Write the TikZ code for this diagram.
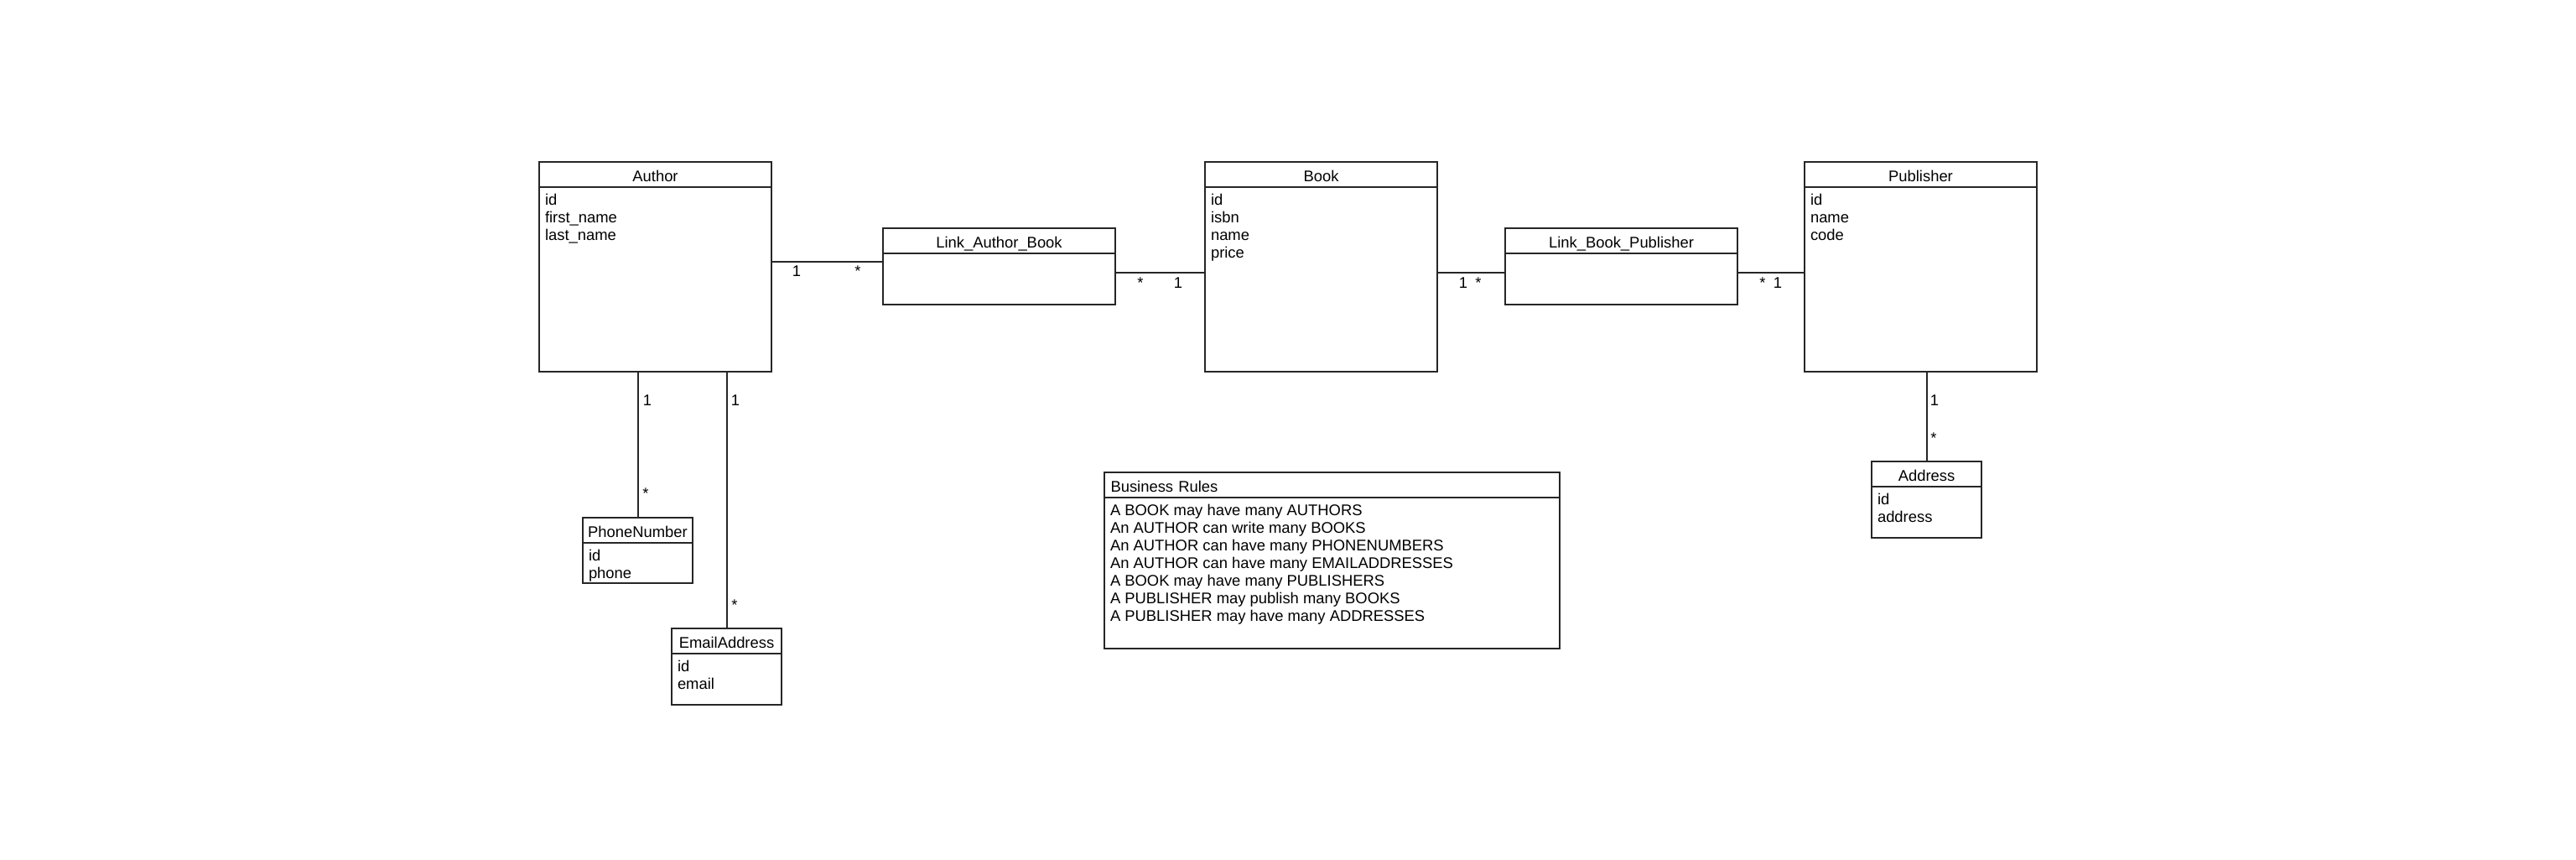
\documentclass[tikz,border=0pt]{standalone}
\usepackage{fontspec}
\setmainfont{Liberation Sans}
\usepackage{xcolor}
\usetikzlibrary{positioning}
\definecolor{umlLine}{HTML}{262626}

\begin{document}
\begin{tikzpicture}[
  x=1pt, y=-1pt,
  every node/.style={font=\fontsize{9.2}{10.5}\selectfont, inner sep=0pt, outer sep=0pt},
  head/.style={draw=umlLine, line width=1pt, anchor=north west, minimum width=138.5pt, minimum height=15pt, text height=8pt, text depth=0pt},
  body/.style={draw=umlLine, line width=1pt, minimum width=138.5pt},
  smallbox/.style={minimum width=65.5pt},
  attr/.style={anchor=north west, align=left, xshift=3.5pt, yshift=-4pt},
  mult/.style={anchor=base},
  assoc/.style={umlLine, line width=1pt},
]
  \useasboundingbox (0,0) rectangle (1536,512);

  % classes
  \node[head] (author) at (321.5,96.5) {Author};
  \node[body, below=0pt of author, minimum height=110pt] (author-body) {};
  \node[attr] (author-attr) at (author-body.north west) {id\\first\_name\\last\_name};

  \node[head] (lab) at (526.5,136) {Link\_Author\_Book};
  \node[body, below=0pt of lab, minimum height=30.5pt] (lab-body) {};

  \node[head] (book) at (718.5,96.5) {Book};
  \node[body, below=0pt of book, minimum height=110pt] (book-body) {};
  \node[attr] (book-attr) at (book-body.north west) {id\\isbn\\name\\price};

  \node[head] (lbp) at (897.5,136) {Link\_Book\_Publisher};
  \node[body, below=0pt of lbp, minimum height=30.5pt] (lbp-body) {};

  \node[head] (pub) at (1076,96.5) {Publisher};
  \node[body, below=0pt of pub, minimum height=110pt] (pub-body) {};
  \node[attr] (pub-attr) at (pub-body.north west) {id\\name\\code};

  \node[head, smallbox] (phone) at (347.5,308.5) {PhoneNumber};
  \node[body, smallbox, below=0pt of phone, minimum height=24pt] (phone-body) {};
  \node[attr] (phone-attr) at (phone-body.north west) {id\\phone};

  \node[head, smallbox] (email) at (400.5,374.5) {EmailAddress};
  \node[body, smallbox, below=0pt of email, minimum height=30.5pt] (email-body) {};
  \node[attr] (email-attr) at (email-body.north west) {id\\email};

  \node[head, smallbox] (address) at (1116,275) {Address};
  \node[body, smallbox, below=0pt of address, minimum height=30.5pt] (address-body) {};
  \node[attr] (address-attr) at (address-body.north west) {id\\address};

  % business rules note
  \node[head, minimum width=271.5pt, text width=264pt, align=left] (rules) at (658.5,281.5) {Business Rules};
  \node[body, minimum width=271.5pt, below=0pt of rules, minimum height=90pt] (rules-body) {};
  \node[attr] (rules-attr) at (rules-body.north west) {A BOOK may have many AUTHORS\\An AUTHOR can write many BOOKS\\An AUTHOR can have many PHONENUMBERS\\An AUTHOR can have many EMAILADDRESSES\\A BOOK may have many PUBLISHERS\\A PUBLISHER may publish many BOOKS\\A PUBLISHER may have many ADDRESSES};

  % associations
  \draw[assoc] (author-body.east |- 0,155.8) -- (lab-body.west |- 0,155.8);
  \draw[assoc] (lab-body.east |- 0,162.5) -- (book-body.west |- 0,162.5);
  \draw[assoc] (book-body.east |- 0,162.5) -- (lbp-body.west |- 0,162.5);
  \draw[assoc] (lbp-body.east |- 0,162.5) -- (pub-body.west |- 0,162.5);
  \draw[assoc] (author-body.south -| phone.north) -- (phone.north);
  \draw[assoc] (author-body.south -| email.north) -- (email.north);
  \draw[assoc] (pub-body.south -| address.north) -- (address.north);

  % multiplicities
  \node[mult] (m1) at (475,164.7) {1};
  \node[mult] (m2) at (511.5,164.7) {*};
  \node[mult] (m3) at (680,171.5) {*};
  \node[mult] (m4) at (702.5,171.5) {1};
  \node[mult] (m5) at (872.5,171.5) {1};
  \node[mult] (m6) at (881.5,171.5) {*};
  \node[mult] (m7) at (1051,171.5) {*};
  \node[mult] (m8) at (1060,171.5) {1};
  \node[mult] (m9) at (386,241.5) {1};
  \node[mult] (m10) at (385,297) {*};
  \node[mult] (m11) at (438.5,241.5) {1};
  \node[mult] (m12) at (438,363.5) {*};
  \node[mult] (m13) at (1153.5,241.5) {1};
  \node[mult] (m14) at (1153,264) {*};
\end{tikzpicture}
\end{document}
